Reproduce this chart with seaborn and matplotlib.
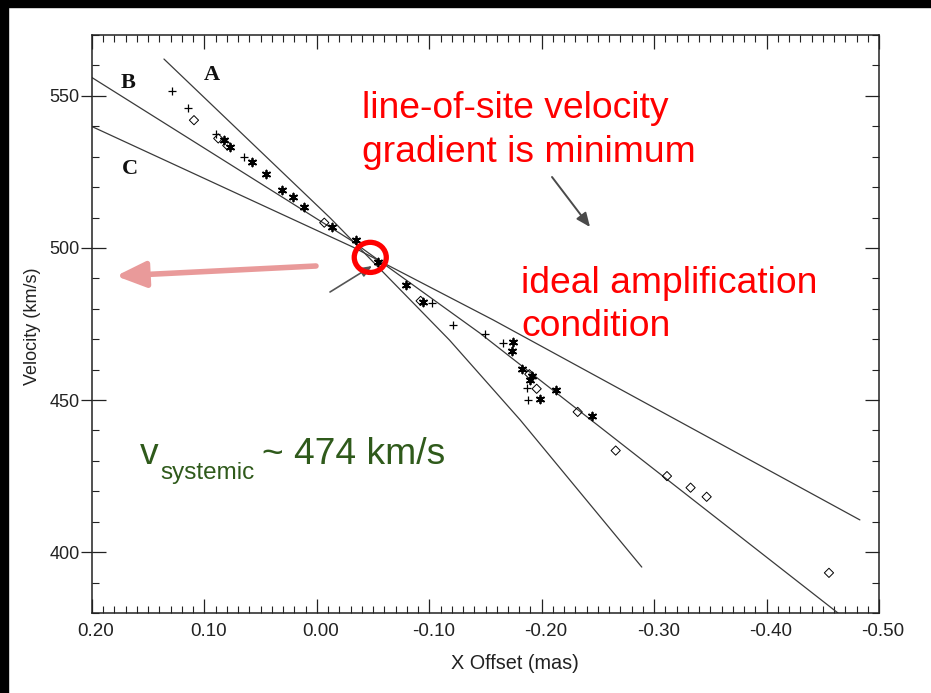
import numpy as np
import pandas as pd
import matplotlib
matplotlib.use("Agg")
import matplotlib.pyplot as plt
import matplotlib.transforms as mtransforms
import seaborn as sns
from matplotlib.patches import Ellipse, Rectangle
from matplotlib.ticker import MultipleLocator, FuncFormatter

# ---------------- data ----------------
# model curves A, B, C
A_x = [0.136, -0.012, -0.118, -0.181, -0.289]
A_y = [562.1, 509.8, 469.7, 443.4, 395.1]
B_x = [0.200, -0.030, -0.145, -0.4635]
B_y = [556.0, 502.6, 472.0, 380.0]
C_x = [0.200, -0.032, -0.157, -0.483]
C_y = [539.9, 500.3, 476.3, 410.6]

# '+' points
plus_x = [0.1291, 0.1143, 0.0897, 0.0645, -0.1021, -0.1214, -0.1495, -0.1658, -0.1866, -0.1881]
plus_y = [551.6, 546.1, 537.4, 530.0, 482.0, 474.6, 471.7, 468.6, 453.9, 450.0]

# open diamond points
dia_x = [0.1093, 0.0877, 0.0797, -0.0066, -0.0923, -0.1890, -0.1955,
         -0.2320, -0.2658, -0.3114, -0.3324, -0.3467, -0.4555]
dia_y = [542.0, 536.0, 533.7, 508.3, 482.6, 458.5, 453.7,
         446.1, 433.4, 425.0, 421.2, 418.2, 393.2]

# asterisk points
ast_x = [0.0826, 0.0773, 0.0580, 0.0450, 0.0310, 0.0215, 0.0114, -0.0132,
         -0.0345, -0.0547, -0.0790, -0.0941, -0.1747, -0.1739, -0.1828,
         -0.1911, -0.1896, -0.2127, -0.1985, -0.2444]
ast_y = [535.5, 533.3, 528.2, 524.4, 519.0, 516.6, 513.6, 507.0,
         502.6, 495.5, 487.8, 482.3, 469.2, 466.2, 460.1,
         457.9, 456.6, 453.3, 450.3, 444.9]

x_ticks = [0.20, 0.10, 0.00, -0.10, -0.20, -0.30, -0.40, -0.50]
y_ticks = [400, 450, 500, 550]

# ---------------- style ----------------
sns.set_theme(style="ticks")
plt.rcParams["font.family"] = ["Liberation Sans", "DejaVu Sans"]
plt.rcParams["axes.unicode_minus"] = False

W, H = 931, 693
fig = plt.figure(figsize=(W / 100, H / 100), dpi=100)
fig.patch.set_facecolor("white")

def fx(px):
    return px / W

def fy(py):
    return 1 - py / H

ax = fig.add_axes([fx(92), fy(613), (879 - 92) / W, (613 - 35) / H])
ax.set_facecolor("white")

line_col = "#3a3a3a"
for xs, ys in [(A_x, A_y), (B_x, B_y), (C_x, C_y)]:
    sns.lineplot(x=xs, y=ys, sort=False, estimator=None, color=line_col,
                 linewidth=0.9, ax=ax)

sns.scatterplot(x=plus_x, y=plus_y, marker="+", s=38, color="black",
                linewidth=0.9, ax=ax, zorder=4)
ax.scatter(dia_x, dia_y, marker="D", s=22, facecolors="none",
           edgecolors="black", linewidths=0.7, zorder=4)
sns.scatterplot(x=ast_x, y=ast_y, marker=(6, 2, 0), s=32, color="black",
                linewidth=1.3, ax=ax, zorder=4)

# red circle
ax.add_patch(Ellipse((-0.0475, 496.9), 0.0285, 9.9, fill=False,
                     edgecolor="#ff0000", linewidth=3.8, zorder=6))

ax.set_xlim(0.20, -0.50)
ax.set_ylim(380, 570)
ax.set_xticks(x_ticks)
ax.set_yticks(y_ticks)
ax.xaxis.set_minor_locator(MultipleLocator(0.01))
ax.yaxis.set_minor_locator(MultipleLocator(10))
ax.xaxis.set_major_formatter(FuncFormatter(lambda v, p: f"{round(v, 2) + 0.0:.2f}"))
ax.yaxis.set_major_formatter(FuncFormatter(lambda v, p: f"{int(round(v))}"))

ax.tick_params(which="both", direction="in", top=True, right=True,
               color="#222222", labelcolor="#222222")
ax.tick_params(axis="x", labelsize=13.5)
ax.tick_params(axis="y", labelsize=13)
ax.tick_params(which="major", length=10, width=0.9)
ax.tick_params(which="minor", length=5, width=0.8)
ax.tick_params(axis="x", which="major", pad=7)
ax.tick_params(axis="y", which="major", pad=9)
for s in ax.spines.values():
    s.set_color("#222222")
    s.set_linewidth(1.1)

# shift x tick labels slightly right, as in the reference
shift = mtransforms.ScaledTranslation(4 / 100, 0, fig.dpi_scale_trans)
for lab in ax.get_xticklabels():
    lab.set_transform(lab.get_transform() + shift)

# outward stubs at left major ticks
ax_out = fig.add_axes(ax.get_position(), sharey=ax, frameon=False)
ax_out.patch.set_alpha(0)
ax_out.tick_params(axis="y", which="major", direction="out", length=8,
                   width=0.9, left=True, right=False, labelleft=False, color="#222222")
ax_out.tick_params(axis="y", which="minor", left=False, right=False)
ax_out.tick_params(axis="x", which="both", bottom=False, top=False, labelbottom=False)

ax.set_xlabel("X Offset (mas)", fontsize=14.3, color="#222222")
ax.xaxis.set_label_coords((515 - 92) / 787, -(654 - 613) / 578)
ax.set_ylabel("Velocity (km/s)", fontsize=13, color="#222222")
ax.yaxis.set_label_coords((41 - 92) / 787, (613 - 326) / 578)

# curve labels
for lab, px, py in [("A", 204, 80), ("B", 121, 88), ("C", 122, 174)]:
    fig.text(fx(px), fy(py), lab, family=["Liberation Serif", "DejaVu Serif"],
             fontweight="bold", fontsize=16, color="#111111", va="baseline", ha="left")

# red annotation texts
red = "#ff0000"
for txt, px, py in [("line-of-site velocity", 362, 118), ("gradient is minimum", 362, 162),
                    ("ideal amplification", 521, 293), ("condition", 521, 336)]:
    fig.text(fx(px), fy(py), txt, fontsize=26.8, color=red, va="baseline", ha="left")

# green systemic velocity text
green = "#2f5a1b"
fig.text(fx(140), fy(464), "v", fontsize=26.8, color=green, va="baseline", ha="left")
fig.text(fx(160), fy(479), "systemic", fontsize=17.5, color=green, va="baseline", ha="left")
fig.text(fx(262), fy(464), "~ 474 km/s", fontsize=26.8, color=green, va="baseline", ha="left")

# arrows
ax.annotate("", xy=(fx(116), fy(276)), xytext=(fx(316), fy(266)),
            xycoords="figure fraction", textcoords="figure fraction",
            arrowprops=dict(arrowstyle="-|>,head_length=1.5,head_width=0.65",
                            color="#e99a9a", lw=4, shrinkA=0, shrinkB=0), zorder=7)
ax.annotate("", xy=(fx(590), fy(227)), xytext=(fx(552), fy(177)),
            xycoords="figure fraction", textcoords="figure fraction",
            arrowprops=dict(arrowstyle="-|>,head_length=0.7,head_width=0.3",
                            color="#4a4a4a", lw=1.4, shrinkA=0, shrinkB=0), zorder=7)
ax.annotate("", xy=(fx(372), fy(266)), xytext=(fx(330), fy(292)),
            xycoords="figure fraction", textcoords="figure fraction",
            arrowprops=dict(arrowstyle="-|>,head_length=0.6,head_width=0.25",
                            color="#555555", lw=1.2, shrinkA=0, shrinkB=0), zorder=5)

# black border strips (top and left)
fig.add_artist(Rectangle((0, fy(7)), 1, 7 / H, transform=fig.transFigure,
                         color="black", zorder=10))
fig.add_artist(Rectangle((0, 0), 8 / W, 1, transform=fig.transFigure,
                         color="black", zorder=10))

fig.savefig("out.png", dpi=100, facecolor="white")
